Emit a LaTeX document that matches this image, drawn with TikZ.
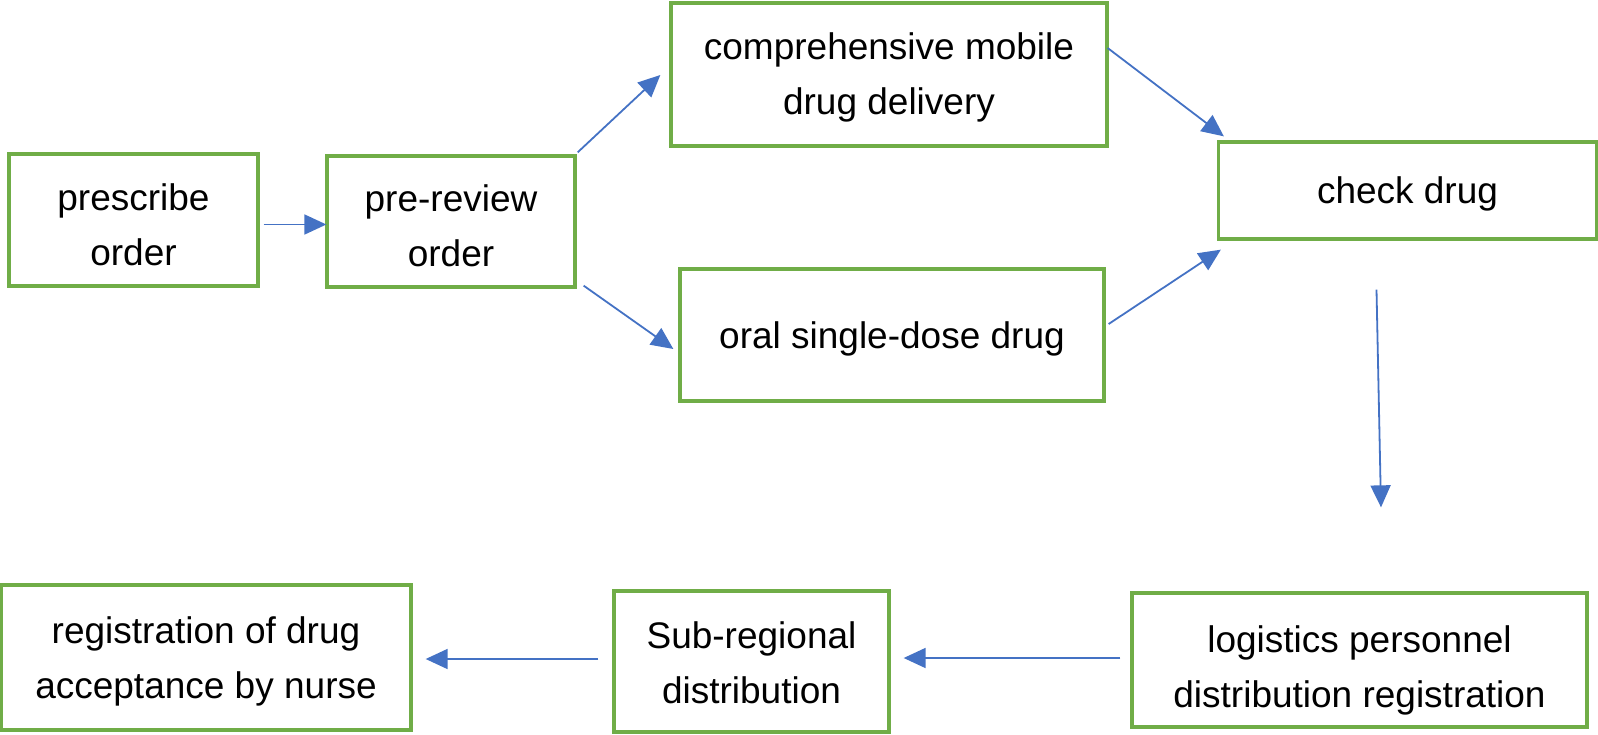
\documentclass[tikz,border=0pt]{standalone}
\usepackage{fontspec}
\setmainfont{Liberation Sans}
\usetikzlibrary{arrows.meta}
\definecolor{boxgreen}{HTML}{70AD47}
\definecolor{arrowblue}{HTML}{4472C4}
\newcommand{\lnstrut}{\rule[-8pt]{0pt}{35pt}}
\tikzset{
  stepbox/.style={draw=boxgreen, line width=3.3pt, inner sep=0pt},
  boxtext/.style={align=center, inner sep=0pt, font=\fontsize{37}{55}\selectfont},
  flow/.style={draw=arrowblue, line width=1.8pt, -{Triangle[length=22pt,width=20pt]}, arrowblue}
}
\begin{document}
\begin{tikzpicture}[x=1pt,y=-1pt]
\useasboundingbox (0,0) rectangle (1598,734);
\node[stepbox, minimum width=249pt, minimum height=132pt] (presc) at (133.5,220) {};
\node[stepbox, minimum width=248pt, minimum height=131pt] (pre) at (451,221.5) {};
\node[stepbox, minimum width=436pt, minimum height=143pt] (comp) at (889,74.5) {};
\node[stepbox, minimum width=424pt, minimum height=132pt] (oral) at (892,335) {};
\node[stepbox, minimum width=378pt, minimum height=97pt] (check) at (1407.5,190.5) {};
\node[stepbox, minimum width=455pt, minimum height=134pt] (logi) at (1359.5,660) {};
\node[stepbox, minimum width=275pt, minimum height=141pt] (sub) at (751.5,661.5) {};
\node[stepbox, minimum width=410pt, minimum height=145pt] (reg) at (206,657.5) {};

\node[boxtext] (presc-t) at ([yshift=-8pt]presc.center) {\lnstrut prescribe\\\lnstrut order};
\node[boxtext] (pre-t) at ([yshift=-7.5pt]pre.center) {\lnstrut pre-review\\\lnstrut order};
\node[boxtext] (comp-t) at ([yshift=-2.5pt]comp.center) {\lnstrut comprehensive mobile\\\lnstrut drug delivery};
\node[boxtext] (oral-t) at ([yshift=-4pt]oral.center) {\lnstrut oral single-dose drug};
\node[boxtext] (check-t) at ([yshift=-3pt]check.center) {\lnstrut check drug};
\node[boxtext] (logi-t) at ([yshift=-10pt]logi.center) {\lnstrut logistics personnel\\\lnstrut distribution registration};
\node[boxtext] (sub-t) at ([yshift=-4.5pt]sub.center) {\lnstrut Sub-regional\\\lnstrut distribution};
\node[boxtext] (reg-t) at ([yshift=-4pt]reg.center) {\lnstrut registration of drug\\\lnstrut acceptance by nurse};

\draw[flow] ([shift={(4,4.5)}]presc.east) -- ([shift={(1,3)}]pre.west);
\draw[flow] ([shift={(1,-2)}]pre.north east) -- ([shift={(-9,0.5)}]comp.west);
\draw[flow] ([shift={(7,-3)}]pre.south east) -- ([shift={(-5,14)}]oral.west);
\draw[flow] ([shift={(-1,-26.5)}]comp.east) -- ([shift={(7,-4)}]check.north west);
\draw[flow] ([shift={(3,-11)}]oral.east) -- ([shift={(4,9)}]check.south west);
\draw[flow] ([shift={(-31,49)}]check.south) -- ([shift={(21.5,-84)}]logi.north);
\draw[flow] ([shift={(-10,-2)}]logi.west) -- ([shift={(13,-3.5)}]sub.east);
\draw[flow] ([shift={(-14,-2.5)}]sub.west) -- ([shift={(13,1.5)}]reg.east);
\end{tikzpicture}
\end{document}
